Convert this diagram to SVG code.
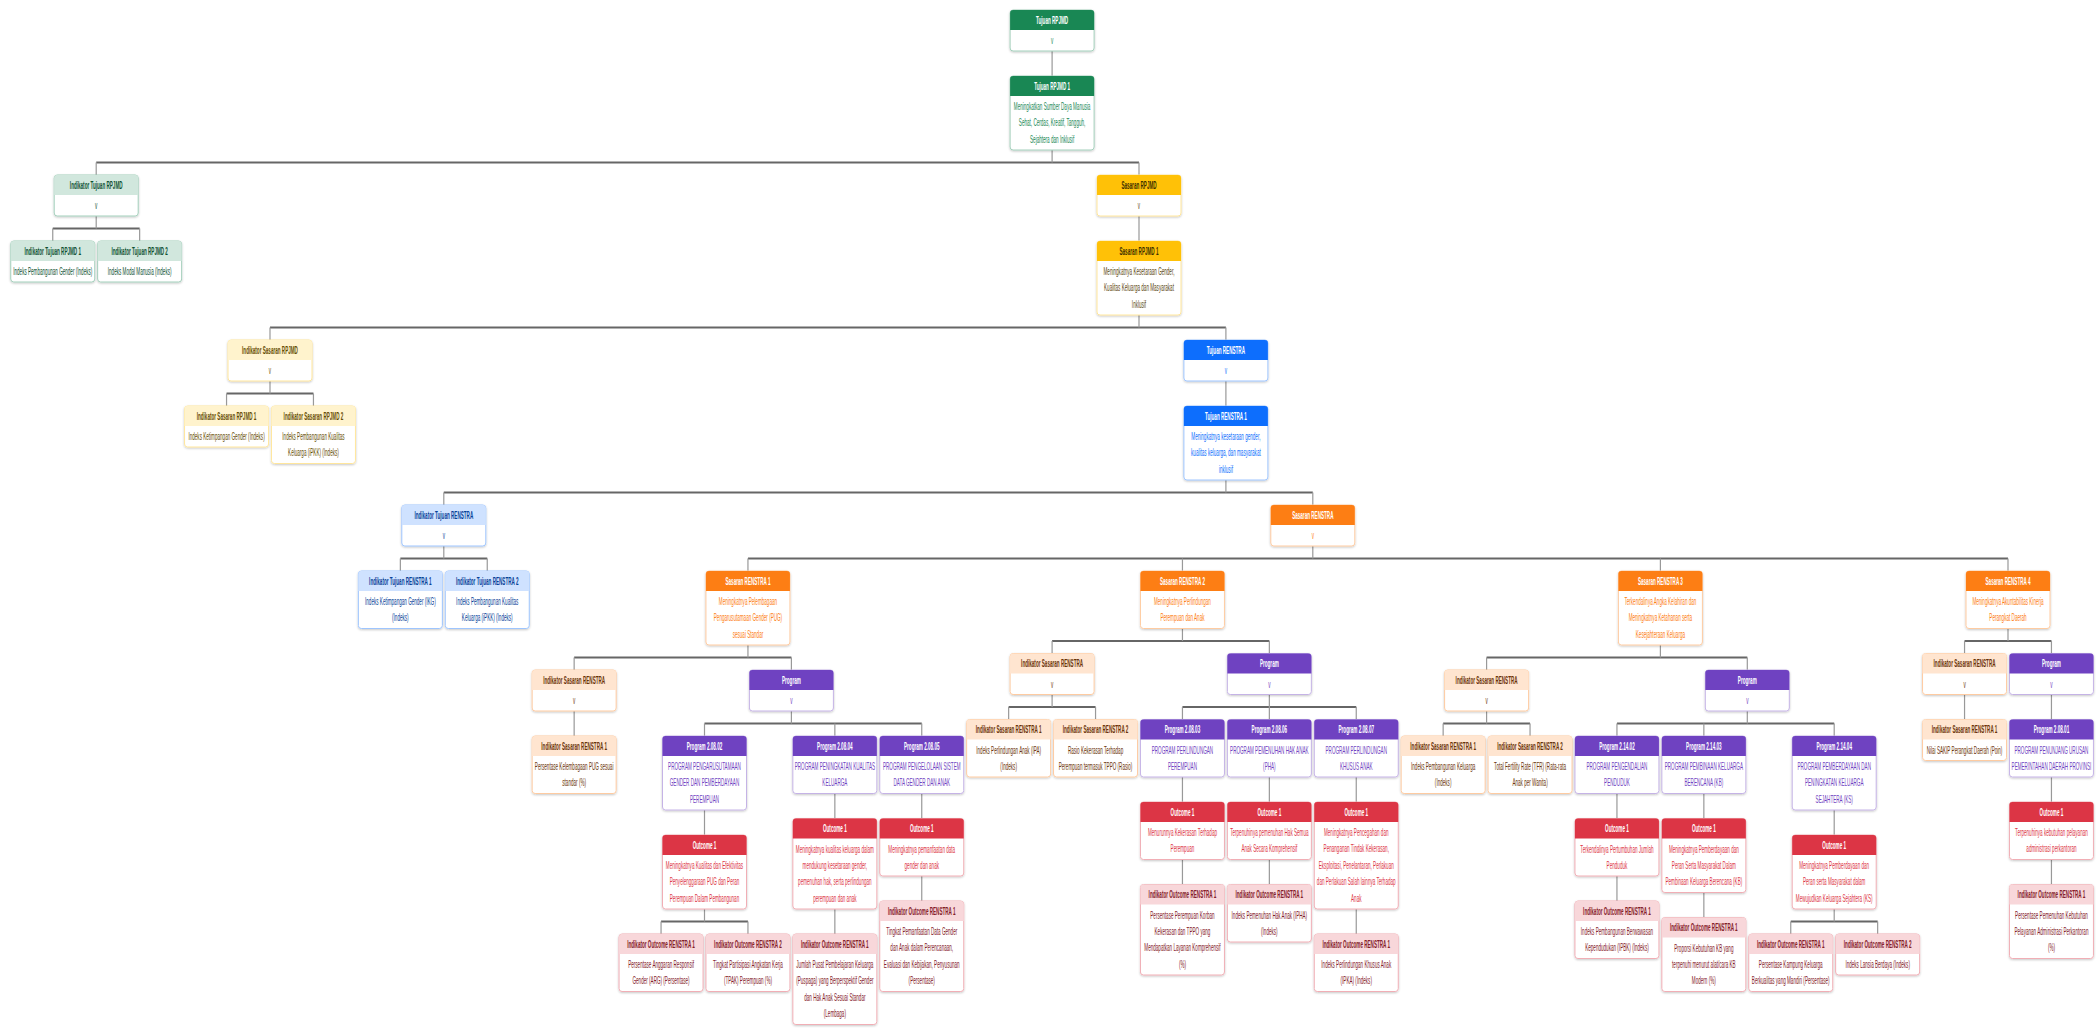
<svg xmlns="http://www.w3.org/2000/svg" width="2096" height="1030" viewBox="0 0 2096 1030">
<style>
.box{fill:#fff;stroke-width:1;filter:url(#sh)}
.ht{font-family:"Liberation Sans",Arial,sans-serif;font-size:10px;font-weight:bold;text-anchor:middle}
.bt{font-family:"Liberation Sans",Arial,sans-serif;font-size:10px;text-anchor:middle}
.bt.v{fill:#444}
.bar{fill:none;stroke:#666;stroke-width:2}
.stem{fill:none;stroke:#999;stroke-width:1.2}
.g .hd{fill:#198754}.g .ht{fill:#fff}.g .bt{fill:#198754}.g .box{stroke:#a3cfbb}
.lg .hd{fill:#d1e7dd}.lg .ht{fill:#0f5132}.lg .bt{fill:#0f5132}.lg .box{stroke:#a3cfbb}
.am .hd{fill:#ffc107}.am .ht{fill:#3d2f00}.am .bt{fill:#5c4813}.am .box{stroke:#ffe69c}
.la .hd{fill:#fff3cd}.la .ht{fill:#664d03}.la .bt{fill:#664d03}.la .box{stroke:#ffe69c}
.bl .hd{fill:#0d6efd}.bl .ht{fill:#fff}.bl .bt{fill:#0d6efd}.bl .box{stroke:#9ec5fe}
.lb .hd{fill:#cfe2ff}.lb .ht{fill:#084298}.lb .bt{fill:#084298}.lb .box{stroke:#9ec5fe}
.or .hd{fill:#fd7e14}.or .ht{fill:#fff}.or .bt{fill:#fd7e14}.or .box{stroke:#fecba1}
.lo .hd{fill:#ffe5d0}.lo .ht{fill:#6b3409}.lo .bt{fill:#6b3409}.lo .box{stroke:#fecba1}
.pu .hd{fill:#6f42c1}.pu .ht{fill:#fff}.pu .bt{fill:#6f42c1}.pu .box{stroke:#c5b3e6}
.rd .hd{fill:#dc3545}.rd .ht{fill:#fff}.rd .bt{fill:#dc3545}.rd .box{stroke:#f1aeb5}
.pk .hd{fill:#f8d7da}.pk .ht{fill:#842029}.pk .bt{fill:#842029}.pk .box{stroke:#f1aeb5}
</style>
<defs>
<filter id="sh" x="-10%" y="-10%" width="120%" height="130%"><feDropShadow dx="0" dy="1" stdDeviation="0.8" flood-color="#000" flood-opacity="0.22"/></filter>
<path id="hd" d="M0,20 V3 Q0,0 3,0 H81 Q84,0 84,3 V20 Z"/>
</defs>
<rect width="2096" height="1030" fill="#fff"/>
<g id="connectors">
<path class="bar" d="M96.2,162.5 H1139 M52.75,228.5 H139.65 M270,327.5 H1225.9 M226.55,393.5 H313.45 M443.8,492.5 H1312.8 M400.35,558.5 H487.25 M747.95,558.5 H2008 M574.15,657.5 H791.4 M704.5,723.5 H921.75 M661.05,921.5 H747.95 M1052.1,641 H1269.35 M1008.65,707 H1095.55 M1182.45,707 H1356.25 M1486.6,657.5 H1747.3 M1443.15,723.5 H1530.05 M1616.95,723.5 H1834.2 M1790.75,921.5 H1877.65 M1964.55,641 H2051.45"/>
<path class="stem" d="M1052.1,51 V76 M1052.1,150 V162.5 M96.2,162.5 V175 M1139,162.5 V175 M96.2,216 V228.5 M52.75,228.5 V241 M139.65,228.5 V241 M1139,216 V241 M1139,315 V327.5 M270,327.5 V340 M1225.9,327.5 V340 M270,381 V393.5 M226.55,393.5 V406 M313.45,393.5 V406 M1225.9,381 V406 M1225.9,480 V492.5 M443.8,492.5 V505 M1312.8,492.5 V505 M443.8,546 V558.5 M400.35,558.5 V571 M487.25,558.5 V571 M1312.8,546 V558.5 M747.95,558.5 V571 M1182.45,558.5 V571 M1660.4,558.5 V571 M2008,558.5 V571 M747.95,645 V657.5 M574.15,657.5 V670 M791.4,657.5 V670 M574.15,711 V736 M791.4,711 V723.5 M704.5,723.5 V736 M834.85,723.5 V736 M921.75,723.5 V736 M704.5,810 V835 M834.85,793.5 V818.5 M921.75,793.5 V818.5 M704.5,909 V921.5 M661.05,921.5 V934 M747.95,921.5 V934 M834.85,909 V934 M921.75,876 V901 M1182.45,628.5 V641 M1052.1,641 V653.5 M1269.35,641 V653.5 M1052.1,694.5 V707 M1008.65,707 V719.5 M1095.55,707 V719.5 M1269.35,694.5 V707 M1182.45,707 V719.5 M1269.35,707 V719.5 M1356.25,707 V719.5 M1182.45,777 V802 M1269.35,777 V802 M1356.25,777 V802 M1182.45,859.5 V884.5 M1269.35,859.5 V884.5 M1356.25,909 V934 M1660.4,645 V657.5 M1486.6,657.5 V670 M1747.3,657.5 V670 M1486.6,711 V723.5 M1443.15,723.5 V736 M1530.05,723.5 V736 M1747.3,711 V723.5 M1616.95,723.5 V736 M1703.85,723.5 V736 M1834.2,723.5 V736 M1616.95,793.5 V818.5 M1703.85,793.5 V818.5 M1834.2,810 V835 M1616.95,876 V901 M1703.85,892.5 V917.5 M1834.2,909 V921.5 M1790.75,921.5 V934 M1877.65,921.5 V934 M2008,628.5 V641 M1964.55,641 V653.5 M2051.45,641 V653.5 M1964.55,694.5 V719.5 M2051.45,694.5 V719.5 M2051.45,777 V802 M2051.45,859.5 V884.5"/>
</g>

<g id="n-tujuan-rpjmd" class="g" transform="translate(1010.1 10)"><rect class="box" width="84" height="41" rx="3"/><use href="#hd" class="hd"/><text class="ht" transform="translate(42 13.6) scale(.46 1)">Tujuan RPJMD</text><text class="bt v" transform="translate(42 34) scale(.46 1)">v</text></g>
<g id="n-tujuan-rpjmd-1" class="g" transform="translate(1010.1 76)"><rect class="box" width="84" height="74" rx="3"/><use href="#hd" class="hd"/><text class="ht" transform="translate(42 13.6) scale(.46 1)">Tujuan RPJMD 1</text><text class="bt" transform="translate(42 34) scale(.46 1)"><tspan x="0">Meningkatkan Sumber Daya Manusia</tspan><tspan x="0" dy="16.5">Sehat, Cerdas, Kreatif, Tangguh,</tspan><tspan x="0" dy="16.5">Sejahtera dan Inklusif</tspan></text></g>

<g id="n-ind-tujuan-rpjmd" class="lg" transform="translate(54.2 175)"><rect class="box" width="84" height="41" rx="3"/><use href="#hd" class="hd"/><text class="ht" transform="translate(42 13.6) scale(.46 1)">Indikator Tujuan RPJMD</text><text class="bt v" transform="translate(42 34) scale(.46 1)">v</text></g>
<g id="n-ind-tujuan-rpjmd-1" class="lg" transform="translate(10.75 241)"><rect class="box" width="84" height="41" rx="3"/><use href="#hd" class="hd"/><text class="ht" transform="translate(42 13.6) scale(.46 1)">Indikator Tujuan RPJMD 1</text><text class="bt" transform="translate(42 34) scale(.46 1)">Indeks Pembangunan Gender (Indeks)</text></g>
<g id="n-ind-tujuan-rpjmd-2" class="lg" transform="translate(97.65 241)"><rect class="box" width="84" height="41" rx="3"/><use href="#hd" class="hd"/><text class="ht" transform="translate(42 13.6) scale(.46 1)">Indikator Tujuan RPJMD 2</text><text class="bt" transform="translate(42 34) scale(.46 1)">Indeks Modal Manusia (Indeks)</text></g>

<g id="n-sasaran-rpjmd" class="am" transform="translate(1097 175)"><rect class="box" width="84" height="41" rx="3"/><use href="#hd" class="hd"/><text class="ht" transform="translate(42 13.6) scale(.46 1)">Sasaran RPJMD</text><text class="bt v" transform="translate(42 34) scale(.46 1)">v</text></g>
<g id="n-sasaran-rpjmd-1" class="am" transform="translate(1097 241)"><rect class="box" width="84" height="74" rx="3"/><use href="#hd" class="hd"/><text class="ht" transform="translate(42 13.6) scale(.46 1)">Sasaran RPJMD 1</text><text class="bt" transform="translate(42 34) scale(.46 1)"><tspan x="0">Meningkatnya Kesetaraan Gender,</tspan><tspan x="0" dy="16.5">Kualitas Keluarga dan Masyarakat</tspan><tspan x="0" dy="16.5">Inklusif</tspan></text></g>

<g id="n-ind-sasaran-rpjmd" class="la" transform="translate(228 340)"><rect class="box" width="84" height="41" rx="3"/><use href="#hd" class="hd"/><text class="ht" transform="translate(42 13.6) scale(.46 1)">Indikator Sasaran RPJMD</text><text class="bt v" transform="translate(42 34) scale(.46 1)">v</text></g>
<g id="n-ind-sasaran-rpjmd-1" class="la" transform="translate(184.55 406)"><rect class="box" width="84" height="41" rx="3"/><use href="#hd" class="hd"/><text class="ht" transform="translate(42 13.6) scale(.46 1)">Indikator Sasaran RPJMD 1</text><text class="bt" transform="translate(42 34) scale(.46 1)">Indeks Ketimpangan Gender (Indeks)</text></g>
<g id="n-ind-sasaran-rpjmd-2" class="la" transform="translate(271.45 406)"><rect class="box" width="84" height="57.5" rx="3"/><use href="#hd" class="hd"/><text class="ht" transform="translate(42 13.6) scale(.46 1)">Indikator Sasaran RPJMD 2</text><text class="bt" transform="translate(42 34) scale(.46 1)"><tspan x="0">Indeks Pembangunan Kualitas</tspan><tspan x="0" dy="16.5">Keluarga (iPKK) (Indeks)</tspan></text></g>

<g id="n-tujuan-renstra" class="bl" transform="translate(1183.9 340)"><rect class="box" width="84" height="41" rx="3"/><use href="#hd" class="hd"/><text class="ht" transform="translate(42 13.6) scale(.46 1)">Tujuan RENSTRA</text><text class="bt v" transform="translate(42 34) scale(.46 1)">v</text></g>
<g id="n-tujuan-renstra-1" class="bl" transform="translate(1183.9 406)"><rect class="box" width="84" height="74" rx="3"/><use href="#hd" class="hd"/><text class="ht" transform="translate(42 13.6) scale(.46 1)">Tujuan RENSTRA 1</text><text class="bt" transform="translate(42 34) scale(.46 1)"><tspan x="0">Meningkatnya kesetaraan gender,</tspan><tspan x="0" dy="16.5">kualitas keluarga, dan masyarakat</tspan><tspan x="0" dy="16.5">inklusif</tspan></text></g>

<g id="n-ind-tujuan-renstra" class="lb" transform="translate(401.8 505)"><rect class="box" width="84" height="41" rx="3"/><use href="#hd" class="hd"/><text class="ht" transform="translate(42 13.6) scale(.46 1)">Indikator Tujuan RENSTRA</text><text class="bt v" transform="translate(42 34) scale(.46 1)">v</text></g>
<g id="n-ind-tujuan-renstra-1" class="lb" transform="translate(358.35 571)"><rect class="box" width="84" height="57.5" rx="3"/><use href="#hd" class="hd"/><text class="ht" transform="translate(42 13.6) scale(.46 1)">Indikator Tujuan RENSTRA 1</text><text class="bt" transform="translate(42 34) scale(.46 1)"><tspan x="0">Indeks Ketimpangan Gender (IKG)</tspan><tspan x="0" dy="16.5">(Indeks)</tspan></text></g>
<g id="n-ind-tujuan-renstra-2" class="lb" transform="translate(445.25 571)"><rect class="box" width="84" height="57.5" rx="3"/><use href="#hd" class="hd"/><text class="ht" transform="translate(42 13.6) scale(.46 1)">Indikator Tujuan RENSTRA 2</text><text class="bt" transform="translate(42 34) scale(.46 1)"><tspan x="0">Indeks Pembangunan Kualitas</tspan><tspan x="0" dy="16.5">Keluarga (iPKK) (Indeks)</tspan></text></g>

<g id="n-sasaran-renstra" class="or" transform="translate(1270.8 505)"><rect class="box" width="84" height="41" rx="3"/><use href="#hd" class="hd"/><text class="ht" transform="translate(42 13.6) scale(.46 1)">Sasaran RENSTRA</text><text class="bt v" transform="translate(42 34) scale(.46 1)">v</text></g>
<g id="n-sasaran-renstra-1" class="or" transform="translate(705.95 571)"><rect class="box" width="84" height="74" rx="3"/><use href="#hd" class="hd"/><text class="ht" transform="translate(42 13.6) scale(.46 1)">Sasaran RENSTRA 1</text><text class="bt" transform="translate(42 34) scale(.46 1)"><tspan x="0">Meningkatnya Pelembagaan</tspan><tspan x="0" dy="16.5">Pengarusutamaan Gender (PUG)</tspan><tspan x="0" dy="16.5">sesuai Standar</tspan></text></g>
<g id="n-sasaran-renstra-2" class="or" transform="translate(1140.45 571)"><rect class="box" width="84" height="57.5" rx="3"/><use href="#hd" class="hd"/><text class="ht" transform="translate(42 13.6) scale(.46 1)">Sasaran RENSTRA 2</text><text class="bt" transform="translate(42 34) scale(.46 1)"><tspan x="0">Meningkatnya Perlindungan</tspan><tspan x="0" dy="16.5">Perempuan dan Anak</tspan></text></g>
<g id="n-sasaran-renstra-3" class="or" transform="translate(1618.4 571)"><rect class="box" width="84" height="74" rx="3"/><use href="#hd" class="hd"/><text class="ht" transform="translate(42 13.6) scale(.46 1)">Sasaran RENSTRA 3</text><text class="bt" transform="translate(42 34) scale(.46 1)"><tspan x="0">Terkendalinya Angka Kelahiran dan</tspan><tspan x="0" dy="16.5">Meningkatnya Ketahanan serta</tspan><tspan x="0" dy="16.5">Kesejahteraan Keluarga</tspan></text></g>
<g id="n-sasaran-renstra-4" class="or" transform="translate(1966 571)"><rect class="box" width="84" height="57.5" rx="3"/><use href="#hd" class="hd"/><text class="ht" transform="translate(42 13.6) scale(.46 1)">Sasaran RENSTRA 4</text><text class="bt" transform="translate(42 34) scale(.46 1)"><tspan x="0">Meningkatnya Akuntabilitas Kinerja</tspan><tspan x="0" dy="16.5">Perangkat Daerah</tspan></text></g>

<g id="n-sr1-ind" class="lo" transform="translate(532.15 670)"><rect class="box" width="84" height="41" rx="3"/><use href="#hd" class="hd"/><text class="ht" transform="translate(42 13.6) scale(.46 1)">Indikator Sasaran RENSTRA</text><text class="bt v" transform="translate(42 34) scale(.46 1)">v</text></g>
<g id="n-sr1-ind-1" class="lo" transform="translate(532.15 736)"><rect class="box" width="84" height="57.5" rx="3"/><use href="#hd" class="hd"/><text class="ht" transform="translate(42 13.6) scale(.46 1)">Indikator Sasaran RENSTRA 1</text><text class="bt" transform="translate(42 34) scale(.46 1)"><tspan x="0">Persentase Kelembagaan PUG sesuai</tspan><tspan x="0" dy="16.5">standar (%)</tspan></text></g>
<g id="n-sr1-program" class="pu" transform="translate(749.4 670)"><rect class="box" width="84" height="41" rx="3"/><use href="#hd" class="hd"/><text class="ht" transform="translate(42 13.6) scale(.46 1)">Program</text><text class="bt v" transform="translate(42 34) scale(.46 1)">v</text></g>
<g id="n-p20802" class="pu" transform="translate(662.5 736)"><rect class="box" width="84" height="74" rx="3"/><use href="#hd" class="hd"/><text class="ht" transform="translate(42 13.6) scale(.46 1)">Program 2.08.02</text><text class="bt" transform="translate(42 34) scale(.46 1)"><tspan x="0">PROGRAM PENGARUSUTAMAAN</tspan><tspan x="0" dy="16.5">GENDER DAN PEMBERDAYAAN</tspan><tspan x="0" dy="16.5">PEREMPUAN</tspan></text></g>
<g id="n-p20804" class="pu" transform="translate(792.85 736)"><rect class="box" width="84" height="57.5" rx="3"/><use href="#hd" class="hd"/><text class="ht" transform="translate(42 13.6) scale(.46 1)">Program 2.08.04</text><text class="bt" transform="translate(42 34) scale(.46 1)"><tspan x="0">PROGRAM PENINGKATAN KUALITAS</tspan><tspan x="0" dy="16.5">KELUARGA</tspan></text></g>
<g id="n-p20805" class="pu" transform="translate(879.75 736)"><rect class="box" width="84" height="57.5" rx="3"/><use href="#hd" class="hd"/><text class="ht" transform="translate(42 13.6) scale(.46 1)">Program 2.08.05</text><text class="bt" transform="translate(42 34) scale(.46 1)"><tspan x="0">PROGRAM PENGELOLAAN SISTEM</tspan><tspan x="0" dy="16.5">DATA GENDER DAN ANAK</tspan></text></g>
<g id="n-o20802" class="rd" transform="translate(662.5 835)"><rect class="box" width="84" height="74" rx="3"/><use href="#hd" class="hd"/><text class="ht" transform="translate(42 13.6) scale(.46 1)">Outcome 1</text><text class="bt" transform="translate(42 34) scale(.46 1)"><tspan x="0">Meningkatnya Kualitas dan Efektivitas</tspan><tspan x="0" dy="16.5">Penyelenggaraan PUG dan Peran</tspan><tspan x="0" dy="16.5">Perempuan Dalam Pembangunan</tspan></text></g>
<g id="n-o20804" class="rd" transform="translate(792.85 818.5)"><rect class="box" width="84" height="90.5" rx="3"/><use href="#hd" class="hd"/><text class="ht" transform="translate(42 13.6) scale(.46 1)">Outcome 1</text><text class="bt" transform="translate(42 34) scale(.46 1)"><tspan x="0">Meningkatnya kualitas keluarga dalam</tspan><tspan x="0" dy="16.5">mendukung kesetaraan gender,</tspan><tspan x="0" dy="16.5">pemenuhan hak, serta perlindungan</tspan><tspan x="0" dy="16.5">perempuan dan anak</tspan></text></g>
<g id="n-o20805" class="rd" transform="translate(879.75 818.5)"><rect class="box" width="84" height="57.5" rx="3"/><use href="#hd" class="hd"/><text class="ht" transform="translate(42 13.6) scale(.46 1)">Outcome 1</text><text class="bt" transform="translate(42 34) scale(.46 1)"><tspan x="0">Meningkatnya pemanfaatan data</tspan><tspan x="0" dy="16.5">gender dan anak</tspan></text></g>
<g id="n-io20802-1" class="pk" transform="translate(619.05 934)"><rect class="box" width="84" height="57.5" rx="3"/><use href="#hd" class="hd"/><text class="ht" transform="translate(42 13.6) scale(.46 1)">Indikator Outcome RENSTRA 1</text><text class="bt" transform="translate(42 34) scale(.46 1)"><tspan x="0">Persentase Anggaran Responsif</tspan><tspan x="0" dy="16.5">Gender (ARG) (Persentase)</tspan></text></g>
<g id="n-io20802-2" class="pk" transform="translate(705.95 934)"><rect class="box" width="84" height="57.5" rx="3"/><use href="#hd" class="hd"/><text class="ht" transform="translate(42 13.6) scale(.46 1)">Indikator Outcome RENSTRA 2</text><text class="bt" transform="translate(42 34) scale(.46 1)"><tspan x="0">Tingkat Partisipasi Angkatan Kerja</tspan><tspan x="0" dy="16.5">(TPAK) Perempuan (%)</tspan></text></g>
<g id="n-io20804-1" class="pk" transform="translate(792.85 934)"><rect class="box" width="84" height="90.5" rx="3"/><use href="#hd" class="hd"/><text class="ht" transform="translate(42 13.6) scale(.46 1)">Indikator Outcome RENSTRA 1</text><text class="bt" transform="translate(42 34) scale(.46 1)"><tspan x="0">Jumlah Pusat Pembelajaran Keluarga</tspan><tspan x="0" dy="16.5">(Puspaga) yang Berperspektif Gender</tspan><tspan x="0" dy="16.5">dan Hak Anak Sesuai Standar</tspan><tspan x="0" dy="16.5">(Lembaga)</tspan></text></g>
<g id="n-io20805-1" class="pk" transform="translate(879.75 901)"><rect class="box" width="84" height="90.5" rx="3"/><use href="#hd" class="hd"/><text class="ht" transform="translate(42 13.6) scale(.46 1)">Indikator Outcome RENSTRA 1</text><text class="bt" transform="translate(42 34) scale(.46 1)"><tspan x="0">Tingkat Pemanfaatan Data Gender</tspan><tspan x="0" dy="16.5">dan Anak dalam Perencanaan,</tspan><tspan x="0" dy="16.5">Evaluasi dan Kebijakan, Penyusunan</tspan><tspan x="0" dy="16.5">(Persentase)</tspan></text></g>

<g id="n-sr2-ind" class="lo" transform="translate(1010.1 653.5)"><rect class="box" width="84" height="41" rx="3"/><use href="#hd" class="hd"/><text class="ht" transform="translate(42 13.6) scale(.46 1)">Indikator Sasaran RENSTRA</text><text class="bt v" transform="translate(42 34) scale(.46 1)">v</text></g>
<g id="n-sr2-ind-1" class="lo" transform="translate(966.65 719.5)"><rect class="box" width="84" height="57.5" rx="3"/><use href="#hd" class="hd"/><text class="ht" transform="translate(42 13.6) scale(.46 1)">Indikator Sasaran RENSTRA 1</text><text class="bt" transform="translate(42 34) scale(.46 1)"><tspan x="0">Indeks Perlindungan Anak (IPA)</tspan><tspan x="0" dy="16.5">(Indeks)</tspan></text></g>
<g id="n-sr2-ind-2" class="lo" transform="translate(1053.55 719.5)"><rect class="box" width="84" height="57.5" rx="3"/><use href="#hd" class="hd"/><text class="ht" transform="translate(42 13.6) scale(.46 1)">Indikator Sasaran RENSTRA 2</text><text class="bt" transform="translate(42 34) scale(.46 1)"><tspan x="0">Rasio Kekerasan Terhadap</tspan><tspan x="0" dy="16.5">Perempuan termasuk TPPO (Rasio)</tspan></text></g>
<g id="n-sr2-program" class="pu" transform="translate(1227.35 653.5)"><rect class="box" width="84" height="41" rx="3"/><use href="#hd" class="hd"/><text class="ht" transform="translate(42 13.6) scale(.46 1)">Program</text><text class="bt v" transform="translate(42 34) scale(.46 1)">v</text></g>
<g id="n-p20803" class="pu" transform="translate(1140.45 719.5)"><rect class="box" width="84" height="57.5" rx="3"/><use href="#hd" class="hd"/><text class="ht" transform="translate(42 13.6) scale(.46 1)">Program 2.08.03</text><text class="bt" transform="translate(42 34) scale(.46 1)"><tspan x="0">PROGRAM PERLINDUNGAN</tspan><tspan x="0" dy="16.5">PEREMPUAN</tspan></text></g>
<g id="n-p20806" class="pu" transform="translate(1227.35 719.5)"><rect class="box" width="84" height="57.5" rx="3"/><use href="#hd" class="hd"/><text class="ht" transform="translate(42 13.6) scale(.46 1)">Program 2.08.06</text><text class="bt" transform="translate(42 34) scale(.46 1)"><tspan x="0">PROGRAM PEMENUHAN HAK ANAK</tspan><tspan x="0" dy="16.5">(PHA)</tspan></text></g>
<g id="n-p20807" class="pu" transform="translate(1314.25 719.5)"><rect class="box" width="84" height="57.5" rx="3"/><use href="#hd" class="hd"/><text class="ht" transform="translate(42 13.6) scale(.46 1)">Program 2.08.07</text><text class="bt" transform="translate(42 34) scale(.46 1)"><tspan x="0">PROGRAM PERLINDUNGAN</tspan><tspan x="0" dy="16.5">KHUSUS ANAK</tspan></text></g>
<g id="n-o20803" class="rd" transform="translate(1140.45 802)"><rect class="box" width="84" height="57.5" rx="3"/><use href="#hd" class="hd"/><text class="ht" transform="translate(42 13.6) scale(.46 1)">Outcome 1</text><text class="bt" transform="translate(42 34) scale(.46 1)"><tspan x="0">Menurunnya Kekerasan Terhadap</tspan><tspan x="0" dy="16.5">Perempuan</tspan></text></g>
<g id="n-o20806" class="rd" transform="translate(1227.35 802)"><rect class="box" width="84" height="57.5" rx="3"/><use href="#hd" class="hd"/><text class="ht" transform="translate(42 13.6) scale(.46 1)">Outcome 1</text><text class="bt" transform="translate(42 34) scale(.46 1)"><tspan x="0">Terpenuhinya pemenuhan Hak Semua</tspan><tspan x="0" dy="16.5">Anak Secara Komprehensif</tspan></text></g>
<g id="n-o20807" class="rd" transform="translate(1314.25 802)"><rect class="box" width="84" height="107" rx="3"/><use href="#hd" class="hd"/><text class="ht" transform="translate(42 13.6) scale(.46 1)">Outcome 1</text><text class="bt" transform="translate(42 34) scale(.46 1)"><tspan x="0">Meningkatnya Pencegahan dan</tspan><tspan x="0" dy="16.5">Penanganan Tindak Kekerasan,</tspan><tspan x="0" dy="16.5">Eksploitasi, Penelantaran, Perlakuan</tspan><tspan x="0" dy="16.5">dan Perlakuan Salah lainnya Terhadap</tspan><tspan x="0" dy="16.5">Anak</tspan></text></g>
<g id="n-io20803-1" class="pk" transform="translate(1140.45 884.5)"><rect class="box" width="84" height="90.5" rx="3"/><use href="#hd" class="hd"/><text class="ht" transform="translate(42 13.6) scale(.46 1)">Indikator Outcome RENSTRA 1</text><text class="bt" transform="translate(42 34) scale(.46 1)"><tspan x="0">Persentase Perempuan Korban</tspan><tspan x="0" dy="16.5">Kekerasan dan TPPO yang</tspan><tspan x="0" dy="16.5">Mendapatkan Layanan Komprehensif</tspan><tspan x="0" dy="16.5">(%)</tspan></text></g>
<g id="n-io20806-1" class="pk" transform="translate(1227.35 884.5)"><rect class="box" width="84" height="57.5" rx="3"/><use href="#hd" class="hd"/><text class="ht" transform="translate(42 13.6) scale(.46 1)">Indikator Outcome RENSTRA 1</text><text class="bt" transform="translate(42 34) scale(.46 1)"><tspan x="0">Indeks Pemenuhan Hak Anak (IPHA)</tspan><tspan x="0" dy="16.5">(Indeks)</tspan></text></g>
<g id="n-io20807-1" class="pk" transform="translate(1314.25 934)"><rect class="box" width="84" height="57.5" rx="3"/><use href="#hd" class="hd"/><text class="ht" transform="translate(42 13.6) scale(.46 1)">Indikator Outcome RENSTRA 1</text><text class="bt" transform="translate(42 34) scale(.46 1)"><tspan x="0">Indeks Perlindungan Khusus Anak</tspan><tspan x="0" dy="16.5">(IPKA) (Indeks)</tspan></text></g>

<g id="n-sr3-ind" class="lo" transform="translate(1444.6 670)"><rect class="box" width="84" height="41" rx="3"/><use href="#hd" class="hd"/><text class="ht" transform="translate(42 13.6) scale(.46 1)">Indikator Sasaran RENSTRA</text><text class="bt v" transform="translate(42 34) scale(.46 1)">v</text></g>
<g id="n-sr3-ind-1" class="lo" transform="translate(1401.15 736)"><rect class="box" width="84" height="57.5" rx="3"/><use href="#hd" class="hd"/><text class="ht" transform="translate(42 13.6) scale(.46 1)">Indikator Sasaran RENSTRA 1</text><text class="bt" transform="translate(42 34) scale(.46 1)"><tspan x="0">Indeks Pembangunan Keluarga</tspan><tspan x="0" dy="16.5">(Indeks)</tspan></text></g>
<g id="n-sr3-ind-2" class="lo" transform="translate(1488.05 736)"><rect class="box" width="84" height="57.5" rx="3"/><use href="#hd" class="hd"/><text class="ht" transform="translate(42 13.6) scale(.46 1)">Indikator Sasaran RENSTRA 2</text><text class="bt" transform="translate(42 34) scale(.46 1)"><tspan x="0">Total Fertility Rate (TFR) (Rata-rata</tspan><tspan x="0" dy="16.5">Anak per Wanita)</tspan></text></g>
<g id="n-sr3-program" class="pu" transform="translate(1705.3 670)"><rect class="box" width="84" height="41" rx="3"/><use href="#hd" class="hd"/><text class="ht" transform="translate(42 13.6) scale(.46 1)">Program</text><text class="bt v" transform="translate(42 34) scale(.46 1)">v</text></g>
<g id="n-p21402" class="pu" transform="translate(1574.95 736)"><rect class="box" width="84" height="57.5" rx="3"/><use href="#hd" class="hd"/><text class="ht" transform="translate(42 13.6) scale(.46 1)">Program 2.14.02</text><text class="bt" transform="translate(42 34) scale(.46 1)"><tspan x="0">PROGRAM PENGENDALIAN</tspan><tspan x="0" dy="16.5">PENDUDUK</tspan></text></g>
<g id="n-p21403" class="pu" transform="translate(1661.85 736)"><rect class="box" width="84" height="57.5" rx="3"/><use href="#hd" class="hd"/><text class="ht" transform="translate(42 13.6) scale(.46 1)">Program 2.14.03</text><text class="bt" transform="translate(42 34) scale(.46 1)"><tspan x="0">PROGRAM PEMBINAAN KELUARGA</tspan><tspan x="0" dy="16.5">BERENCANA (KB)</tspan></text></g>
<g id="n-p21404" class="pu" transform="translate(1792.2 736)"><rect class="box" width="84" height="74" rx="3"/><use href="#hd" class="hd"/><text class="ht" transform="translate(42 13.6) scale(.46 1)">Program 2.14.04</text><text class="bt" transform="translate(42 34) scale(.46 1)"><tspan x="0">PROGRAM PEMBERDAYAAN DAN</tspan><tspan x="0" dy="16.5">PENINGKATAN KELUARGA</tspan><tspan x="0" dy="16.5">SEJAHTERA (KS)</tspan></text></g>
<g id="n-o21402" class="rd" transform="translate(1574.95 818.5)"><rect class="box" width="84" height="57.5" rx="3"/><use href="#hd" class="hd"/><text class="ht" transform="translate(42 13.6) scale(.46 1)">Outcome 1</text><text class="bt" transform="translate(42 34) scale(.46 1)"><tspan x="0">Terkendalinya Pertumbuhan Jumlah</tspan><tspan x="0" dy="16.5">Penduduk</tspan></text></g>
<g id="n-o21403" class="rd" transform="translate(1661.85 818.5)"><rect class="box" width="84" height="74" rx="3"/><use href="#hd" class="hd"/><text class="ht" transform="translate(42 13.6) scale(.46 1)">Outcome 1</text><text class="bt" transform="translate(42 34) scale(.46 1)"><tspan x="0">Meningkatnya Pemberdayaan dan</tspan><tspan x="0" dy="16.5">Peran Serta Masyarakat Dalam</tspan><tspan x="0" dy="16.5">Pembinaan Keluarga Berencana (KB)</tspan></text></g>
<g id="n-o21404" class="rd" transform="translate(1792.2 835)"><rect class="box" width="84" height="74" rx="3"/><use href="#hd" class="hd"/><text class="ht" transform="translate(42 13.6) scale(.46 1)">Outcome 1</text><text class="bt" transform="translate(42 34) scale(.46 1)"><tspan x="0">Meningkatnya Pemberdayaan dan</tspan><tspan x="0" dy="16.5">Peran serta Masyarakat dalam</tspan><tspan x="0" dy="16.5">Mewujudkan Keluarga Sejahtera (KS)</tspan></text></g>
<g id="n-io21402-1" class="pk" transform="translate(1574.95 901)"><rect class="box" width="84" height="57.5" rx="3"/><use href="#hd" class="hd"/><text class="ht" transform="translate(42 13.6) scale(.46 1)">Indikator Outcome RENSTRA 1</text><text class="bt" transform="translate(42 34) scale(.46 1)"><tspan x="0">Indeks Pembangunan Berwawasan</tspan><tspan x="0" dy="16.5">Kependudukan (IPBK) (Indeks)</tspan></text></g>
<g id="n-io21403-1" class="pk" transform="translate(1661.85 917.5)"><rect class="box" width="84" height="74" rx="3"/><use href="#hd" class="hd"/><text class="ht" transform="translate(42 13.6) scale(.46 1)">Indikator Outcome RENSTRA 1</text><text class="bt" transform="translate(42 34) scale(.46 1)"><tspan x="0">Proporsi Kebutuhan KB yang</tspan><tspan x="0" dy="16.5">terpenuhi menurut alat/cara KB</tspan><tspan x="0" dy="16.5">Modern (%)</tspan></text></g>
<g id="n-io21404-1" class="pk" transform="translate(1748.75 934)"><rect class="box" width="84" height="57.5" rx="3"/><use href="#hd" class="hd"/><text class="ht" transform="translate(42 13.6) scale(.46 1)">Indikator Outcome RENSTRA 1</text><text class="bt" transform="translate(42 34) scale(.46 1)"><tspan x="0">Persentase Kampung Keluarga</tspan><tspan x="0" dy="16.5">Berkualitas yang Mandiri (Persentase)</tspan></text></g>
<g id="n-io21404-2" class="pk" transform="translate(1835.65 934)"><rect class="box" width="84" height="41" rx="3"/><use href="#hd" class="hd"/><text class="ht" transform="translate(42 13.6) scale(.46 1)">Indikator Outcome RENSTRA 2</text><text class="bt" transform="translate(42 34) scale(.46 1)">Indeks Lansia Berdaya (Indeks)</text></g>

<g id="n-sr4-ind" class="lo" transform="translate(1922.55 653.5)"><rect class="box" width="84" height="41" rx="3"/><use href="#hd" class="hd"/><text class="ht" transform="translate(42 13.6) scale(.46 1)">Indikator Sasaran RENSTRA</text><text class="bt v" transform="translate(42 34) scale(.46 1)">v</text></g>
<g id="n-sr4-ind-1" class="lo" transform="translate(1922.55 719.5)"><rect class="box" width="84" height="41" rx="3"/><use href="#hd" class="hd"/><text class="ht" transform="translate(42 13.6) scale(.46 1)">Indikator Sasaran RENSTRA 1</text><text class="bt" transform="translate(42 34) scale(.46 1)">Nilai SAKIP Perangkat Daerah (Poin)</text></g>
<g id="n-sr4-program" class="pu" transform="translate(2009.45 653.5)"><rect class="box" width="84" height="41" rx="3"/><use href="#hd" class="hd"/><text class="ht" transform="translate(42 13.6) scale(.46 1)">Program</text><text class="bt v" transform="translate(42 34) scale(.46 1)">v</text></g>
<g id="n-p20801" class="pu" transform="translate(2009.45 719.5)"><rect class="box" width="84" height="57.5" rx="3"/><use href="#hd" class="hd"/><text class="ht" transform="translate(42 13.6) scale(.46 1)">Program 2.08.01</text><text class="bt" transform="translate(42 34) scale(.46 1)"><tspan x="0">PROGRAM PENUNJANG URUSAN</tspan><tspan x="0" dy="16.5">PEMERINTAHAN DAERAH PROVINSI</tspan></text></g>
<g id="n-o20801" class="rd" transform="translate(2009.45 802)"><rect class="box" width="84" height="57.5" rx="3"/><use href="#hd" class="hd"/><text class="ht" transform="translate(42 13.6) scale(.46 1)">Outcome 1</text><text class="bt" transform="translate(42 34) scale(.46 1)"><tspan x="0">Terpenuhinya kebutuhan pelayanan</tspan><tspan x="0" dy="16.5">administrasi perkantoran</tspan></text></g>
<g id="n-io20801-1" class="pk" transform="translate(2009.45 884.5)"><rect class="box" width="84" height="74" rx="3"/><use href="#hd" class="hd"/><text class="ht" transform="translate(42 13.6) scale(.46 1)">Indikator Outcome RENSTRA 1</text><text class="bt" transform="translate(42 34) scale(.46 1)"><tspan x="0">Persentase Pemenuhan Kebutuhan</tspan><tspan x="0" dy="16.5">Pelayanan Administrasi Perkantoran</tspan><tspan x="0" dy="16.5">(%)</tspan></text></g>
</svg>
